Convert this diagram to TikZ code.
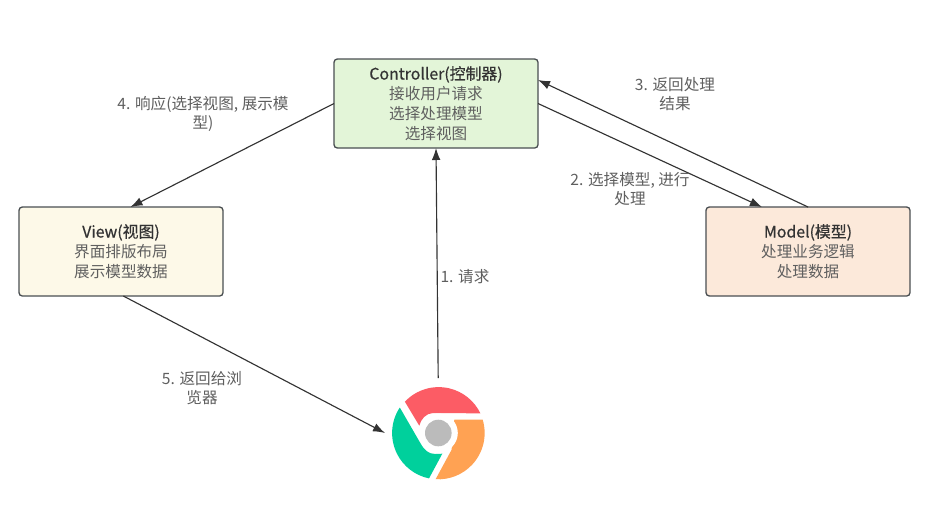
\documentclass[tikz,border=0pt]{standalone}
\usepackage{fontspec}
\setmainfont{Noto Sans CJK SC}
\usetikzlibrary{arrows.meta}
\definecolor{edgegray}{HTML}{333333}
\definecolor{boxline}{HTML}{4A4F52}
\definecolor{bodytext}{HTML}{5F5F5F}
\definecolor{titletext}{HTML}{333333}
\definecolor{ctrlfill}{HTML}{E3F5D8}
\definecolor{viewfill}{HTML}{FDF9E8}
\definecolor{modelfill}{HTML}{FCE9DA}
\definecolor{logored}{HTML}{FC5C65}
\definecolor{logogreen}{HTML}{00D09C}
\definecolor{logoorange}{HTML}{FFA253}
\definecolor{logogray}{HTML}{BBBBBB}
\newcommand{\pxu}{*0.75pt}
\tikzset{
  mvcbox/.style={draw=boxline, line width=1pt, rounded corners=2.5pt, minimum width=204\pxu, minimum height=89\pxu, outer sep=0pt, inner sep=0pt, align=center, text=bodytext, font=\fontsize{11.7}{15}\selectfont},
  link/.style={draw=edgegray, line width=0.85pt, -{Latex[length=9pt,width=6.5pt]}},
  linklabel/.style={align=center, text=bodytext, inner sep=0pt, font=\fontsize{11.7}{14.3}\selectfont},
}
\newcommand{\boxtitle}[1]{{\color{titletext}\fontsize{11.9}{15}\selectfont\addfontfeature{FakeBold=0.6}#1}}
\begin{document}
\begin{tikzpicture}[x=0.75pt,y=-0.75pt]
\useasboundingbox (0,0) rectangle (952,519);
\fill[white] (0,0) rectangle (952,519);

\node[mvcbox, fill=ctrlfill] (ctrl) at (436,103.5) {\boxtitle{Controller(控制器)}\\接收用户请求\\选择处理模型\\选择视图};
\node[mvcbox, fill=viewfill] (view) at (121,251.5) {\boxtitle{View(视图)}\\界面排版布局\\展示模型数据};
\node[mvcbox, fill=modelfill] (model) at (808,251.5) {\boxtitle{Model(模型)}\\处理业务逻辑\\处理数据};

% browser logo
\coordinate (browser) at (438.3,433);
\coordinate (browserbottom) at (438.2,378);
\coordinate (browserleft) at (385,433);
\begin{scope}[shift={(browser)}]
  \fill[logored] (-33.4,-31.3) arc[start angle=-136.8, end angle=-25.6, radius=46.3]
     -- (5,-20) -- (-5,-20) .. controls (-12,-20) and (-17.5,-14) .. (-19,-7.3) -- cycle;
  \fill[logogreen] (-38.5,-25.5) arc[start angle=-146.5, end angle=-258.3, radius=46.3]
     -- (4,20.7) -- (-3,21) .. controls (-10,21) and (-14,17) .. (-18,10) -- cycle;
  \fill[logoorange] (16,-13.3) -- (44.4,-13.3) arc[start angle=-16.7, end angle=93.4, radius=46.3]
     -- (13.3,16.7) -- cycle;
  \fill[white] (0,0) circle[radius=19.5];
  \fill[logogray] (0,0) circle[radius=13.3];
\end{scope}

\draw[link] (browserbottom) -- (ctrl.south);
\draw[link] (ctrl.east) -- (model.136.6);
\draw[link] (model.north) -- (ctrl.13.5);
\draw[link] (ctrl.west) -- (view.78.8);
\draw[link] (view.-87.5) -- (browserleft);

\node[linklabel] (l1) at (465,277) {1. 请求};
\node[linklabel] (l2) at (630,189.5) {2. 选择模型, 进行\\处理};
\node[linklabel] (l3) at (675,94.5) {3. 返回处理\\结果};
\node[linklabel] (l4) at (203,113.5) {4. 响应(选择视图, 展示模\\型)};
\node[linklabel] (l5) at (202,388.5) {5. 返回给浏\\览器};
\end{tikzpicture}
\end{document}
